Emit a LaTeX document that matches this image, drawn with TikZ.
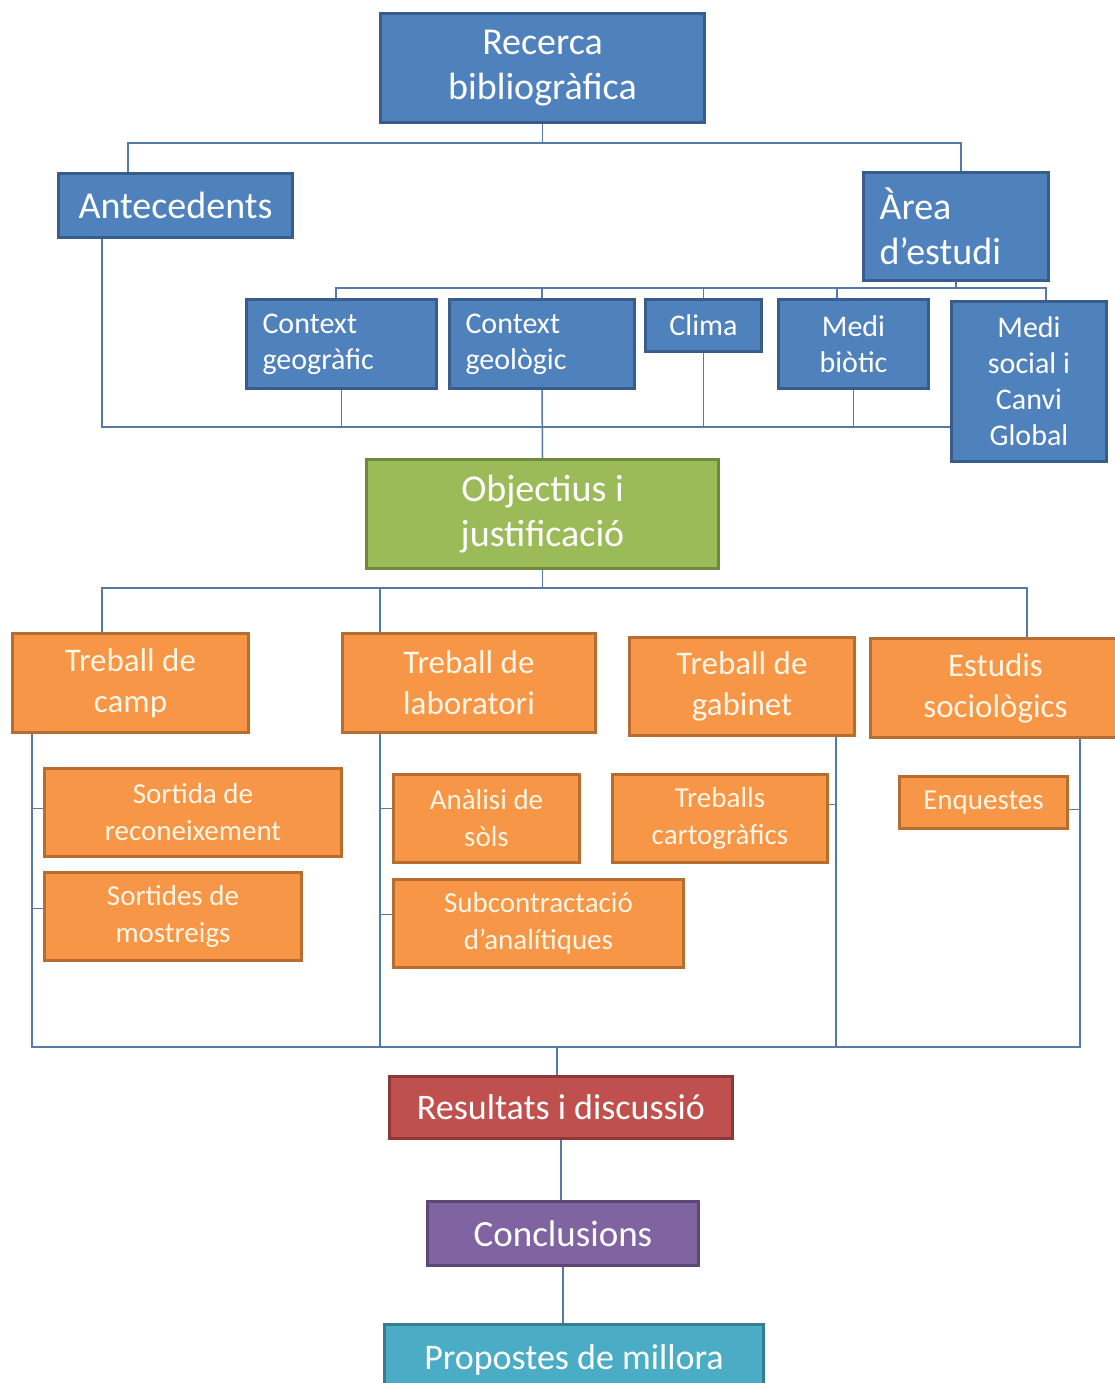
\documentclass[tikz,border=0pt]{standalone}
\usepackage{fontspec}
\setmainfont{Carlito}
\usepackage{tikz}
\usetikzlibrary{positioning}
\definecolor{bluefill}{RGB}{79,129,189}
\definecolor{blueline}{RGB}{56,93,138}
\definecolor{greenfill}{RGB}{155,187,89}
\definecolor{greenline}{RGB}{113,137,63}
\definecolor{orangefill}{RGB}{247,150,70}
\definecolor{orangeline}{RGB}{182,109,49}
\definecolor{orangetext}{RGB}{255,246,230}
\definecolor{redfill}{RGB}{192,80,77}
\definecolor{redline}{RGB}{140,56,54}
\definecolor{purplefill}{RGB}{128,100,162}
\definecolor{purpleline}{RGB}{92,71,118}
\definecolor{cyanfill}{RGB}{75,172,198}
\definecolor{cyanline}{RGB}{53,125,145}
\definecolor{connline}{RGB}{86,122,166}

\begin{document}
\begin{tikzpicture}[
  x=1pt, y=-1pt,
  box/.style={draw, line width=3pt, anchor=north west, align=center, text=white,
    inner xsep=16pt, inner ysep=0pt},
  lbox/.style={box, align=left, text width=#1},
  bluebox/.style={box, fill=bluefill, draw=blueline},
  orangebox/.style={box, fill=orangefill, draw=orangeline, text=orangetext, font=\fontsize{33}{41}\selectfont},
  subbox/.style={box, fill=orangefill, draw=orangeline, text=orangetext, font=\fontsize{29}{37}\selectfont},
  tbig/.style={font=\fontsize{38}{45}\selectfont},
  tmed/.style={font=\fontsize{30}{36}\selectfont},
  conn/.style={draw=connline, line width=1.5pt}
]
  \clip (0,0) rectangle (1115,1383);

  \node[bluebox, tbig, minimum width=324pt, minimum height=109pt] (rec) at (379,12) {Recerca\\bibliogràfica};
  \node[bluebox, tbig, minimum width=234pt, minimum height=64pt] (ant) at (57,172) {Antecedents};
  \node[bluebox, tbig, lbox=153pt, minimum height=108pt] (area) at (862,171) {Àrea\\d’estudi};
  \node[bluebox, tmed, lbox=158pt, minimum height=89pt] (cgeo) at (245,298) {Context\\geogràfic};
  \node[bluebox, tmed, lbox=153pt, minimum height=89pt] (cgeol) at (448,298) {Context\\geològic};
  \node[bluebox, tmed, minimum width=116pt, minimum height=52pt] (clima) at (644,298) {Clima};
  \node[bluebox, tmed, minimum width=150pt, minimum height=89pt] (mbio) at (777,298) {Medi\\biòtic};
  \node[bluebox, tmed, minimum width=155pt, minimum height=160pt] (msoc) at (950,300) {Medi\\social i\\Canvi\\Global};

  \node[box, tbig, fill=greenfill, draw=greenline, minimum width=352pt, minimum height=109pt] (obj) at (365,458) {Objectius i\\justificació};

  \node[orangebox, minimum width=236pt, minimum height=99pt] (camp) at (11,632) {Treball de\\camp};
  \node[orangebox, minimum width=253pt, minimum height=99pt] (lab) at (341,632) {Treball de\\laboratori};
  \node[orangebox, minimum width=225pt, minimum height=98pt] (gab) at (628,636) {Treball de\\gabinet};
  \node[orangebox, minimum width=250pt, minimum height=99pt] (soc) at (869,637) {Estudis\\sociològics};

  \node[subbox, minimum width=297pt, minimum height=88pt] (sortr) at (43,767) {Sortida de\\reconeixement};
  \node[subbox, minimum width=257pt, minimum height=88pt] (sortm) at (43,871) {Sortides de\\mostreigs};
  \node[subbox, minimum width=186pt, minimum height=88pt] (anal) at (392,773) {Anàlisi de\\sòls};
  \node[subbox, minimum width=290pt, minimum height=88pt] (subc) at (392,878) {Subcontractació\\d’analítiques};
  \node[subbox, minimum width=215pt, minimum height=88pt] (cart) at (611,773) {Treballs\\cartogràfics};
  \node[subbox, minimum width=168pt, minimum height=52pt] (enq) at (898,775) {Enquestes};

  \node[box, fill=redfill, draw=redline, font=\fontsize{36}{43}\selectfont, minimum width=343pt, minimum height=62pt] (res) at (388,1075) {Resultats i discussió};
  \node[box, fill=purplefill, draw=purpleline, font=\fontsize{37}{44}\selectfont, minimum width=271pt, minimum height=64pt] (conc) at (426,1200) {Conclusions};
  \node[box, fill=cyanfill, draw=cyanline, font=\fontsize{36}{43}\selectfont, minimum width=379pt, minimum height=70pt] (prop) at (383,1323) {Propostes de millora};

  \coordinate (j1) at (541,427);
  \coordinate (j2) at (557,1047);
  \coordinate (cb) at ([xshift=21pt]camp.south west);
  \coordinate (lb) at ([xshift=39pt]lab.south west);
  \coordinate (gb) at ([xshift=208pt]gab.south west);
  \coordinate (sb) at ([xshift=211pt]soc.south west);

  \draw[conn] (rec.south) -- ++(0,19) -| ([xshift=71pt]ant.north west);
  \draw[conn] (rec.south) -- ++(0,19) -| ([xshift=99pt]area.north west);
  \draw[conn] (area.south) -- ++(0,6) -| ([xshift=91pt]cgeo.north west);
  \draw[conn] (area.south) -- ++(0,6) -| (cgeol.north);
  \draw[conn] (area.south) -- ++(0,6) -| (clima.north);
  \draw[conn] (area.south) -- ++(0,6) -| ([xshift=60pt]mbio.north west);
  \draw[conn] (area.south) -- ++(0,6) -| ([xshift=96pt]msoc.north west);

  \draw[conn] ([xshift=45pt]ant.south west) |- (j1) -- (msoc.west |- j1);
  \draw[conn] (cgeo.south) -- (cgeo.south |- j1);
  \draw[conn] (clima.south) -- (clima.south |- j1);
  \draw[conn] (mbio.south) -- (mbio.south |- j1);
  \draw[conn] (cgeol.south) -- (obj.north);

  \draw[conn] (obj.south) -- ++(0,18) -| ([xshift=91pt]camp.north west);
  \draw[conn] (obj.south) -- ++(0,18) -| ([xshift=39pt]lab.north west);
  \draw[conn] (obj.south) -- ++(0,18) -| ([xshift=158pt]soc.north west);

  \draw[conn] (cb) |- (j2) -| (sb);
  \draw[conn] (lb) -- (lb |- j2);
  \draw[conn] (gb) -- (gb |- j2);
  \draw[conn] ([yshift=4pt]sortr.west) -- ([yshift=4pt]sortr.west -| cb);
  \draw[conn] ([yshift=8pt]sortm.west) -- ([yshift=8pt]sortm.west -| cb);
  \draw[conn] ([yshift=10pt]anal.west) -- ([yshift=10pt]anal.west -| lb);
  \draw[conn] ([yshift=9pt]subc.west) -- ([yshift=9pt]subc.west -| lb);
  \draw[conn] ([yshift=14pt]cart.east) -- ([yshift=14pt]cart.east -| gb);
  \draw[conn] ([yshift=-7pt]enq.east) -- ([yshift=-7pt]enq.east -| sb);

  \draw[conn] (j2) -- (j2 |- res.north);
  \draw[conn] (res.south) -- (res.south |- conc.north);
  \draw[conn] (conc.south) -- (conc.south |- prop.north);
\end{tikzpicture}
\end{document}
